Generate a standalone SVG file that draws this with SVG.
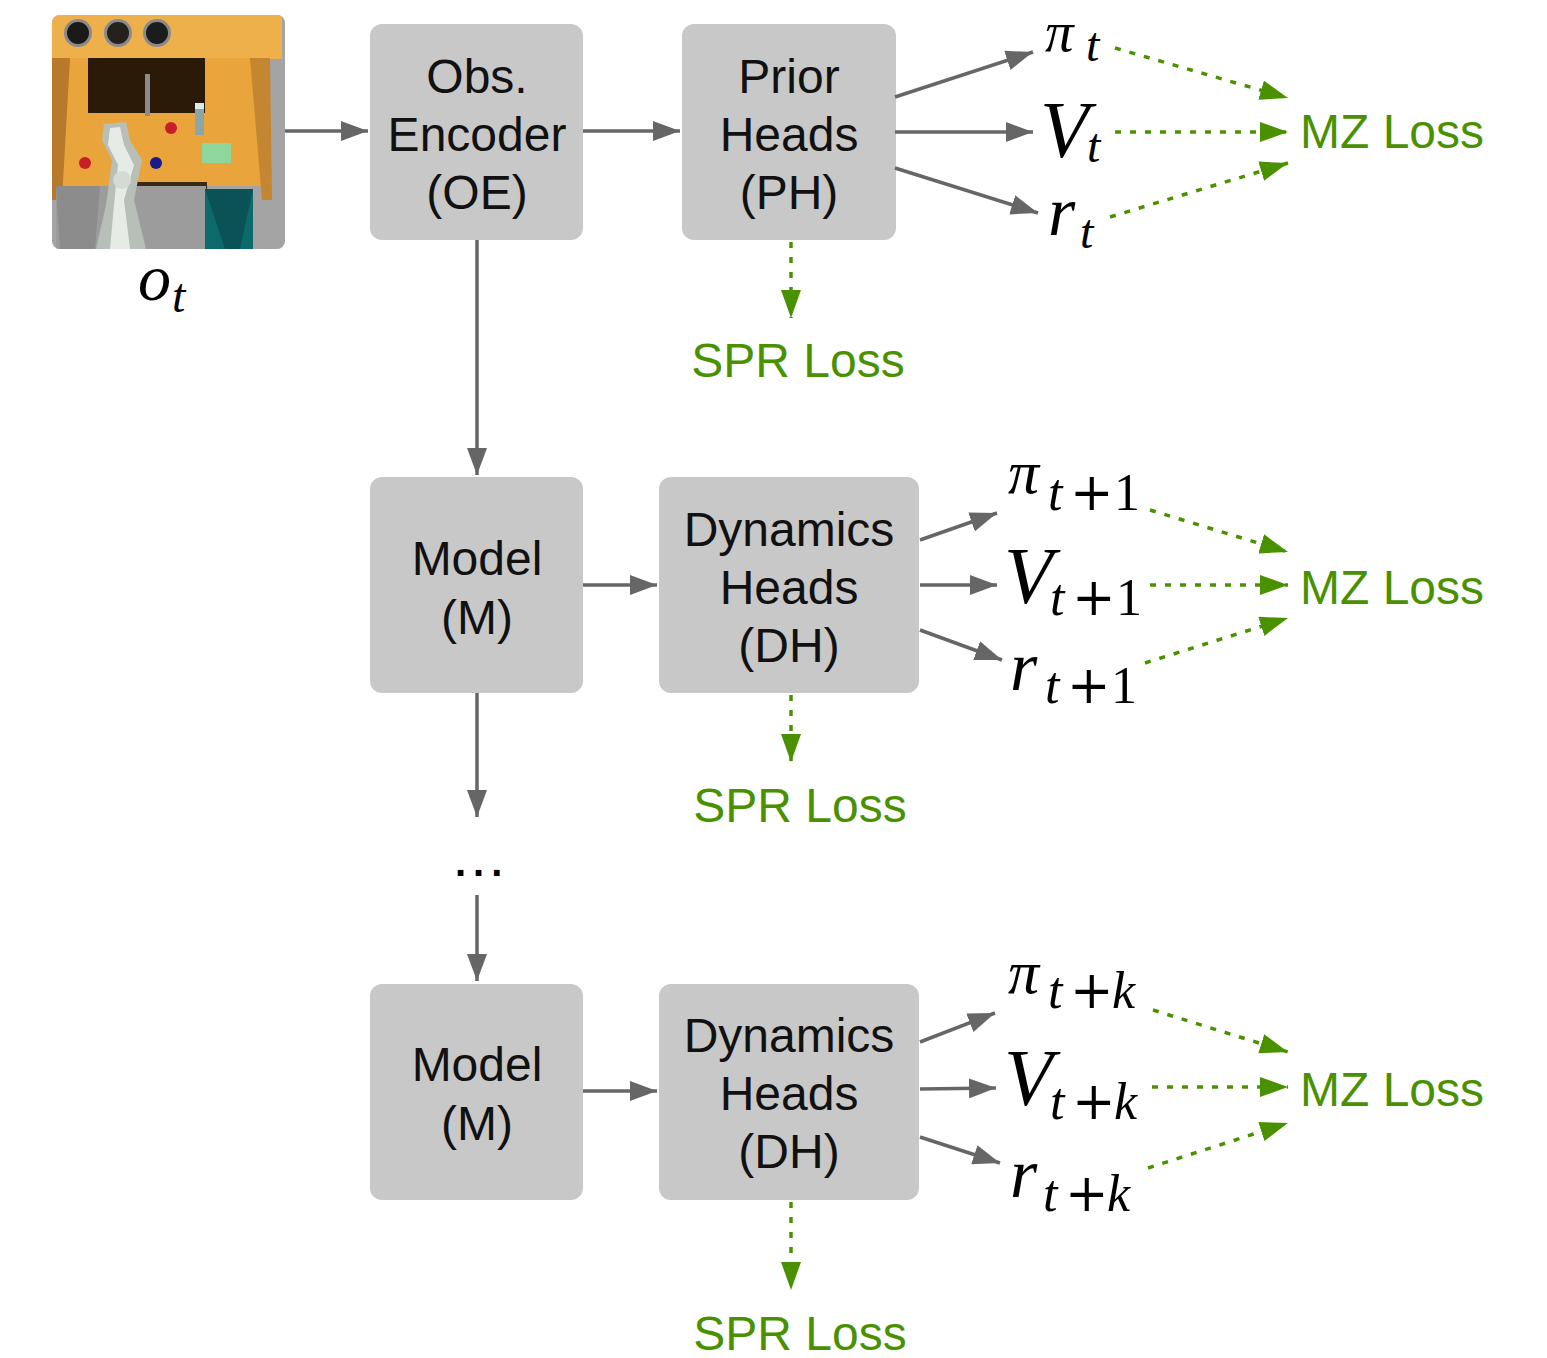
<svg xmlns="http://www.w3.org/2000/svg" width="1547" height="1358" viewBox="0 0 1547 1358">
  <defs>
    <style>
      .box { fill: #c8c8c8; }
      .lbl { font-family: "Liberation Sans", Arial, sans-serif; font-size: 48px; fill: #111; text-anchor: middle; }
      .loss { font-family: "Liberation Sans", Arial, sans-serif; font-size: 48px; fill: #4a9102; }
      .math { font-family: "Liberation Serif", "Times New Roman", serif; font-style: italic; fill: #000; }
      .up { font-style: normal; }
      .plus { font-family: "DejaVu Serif", serif; font-style: normal; }
      .flow { stroke: #666; stroke-width: 3.5; fill: none; marker-end: url(#headGray); }
      .loss-link { stroke: #4a9102; stroke-width: 3.5; fill: none; stroke-dasharray: 6 9; marker-end: url(#headGreen); }
    </style>
    <marker id="headGray" markerUnits="userSpaceOnUse" markerWidth="27" markerHeight="20" refX="27" refY="10" orient="auto">
      <path d="M0,0 L27,10 L0,20 z" fill="#666"/>
    </marker>
    <marker id="headGreen" markerUnits="userSpaceOnUse" markerWidth="28" markerHeight="20" refX="28" refY="10" orient="auto">
      <path d="M0,0 L28,10 L0,20 z" fill="#4a9102"/>
    </marker>
    <clipPath id="obsClip">
      <rect x="52" y="15" width="233" height="234" rx="8"/>
    </clipPath>
  </defs>

  <!-- observation o_t: top-down kitchen scene -->
  <g id="observation">
    <g clip-path="url(#obsClip)">
      <rect x="52" y="15" width="233" height="234" fill="#a4a4a4"/>
      <!-- counter top -->
      <rect x="52" y="15" width="230" height="44" fill="#eeb04a"/>
      <rect x="56" y="58" width="212" height="128" fill="#e9a53c"/>
      <polygon points="52,58 70,58 62,200 52,200" fill="#b87a2a"/>
      <polygon points="250,58 270,58 272,200 262,200" fill="#c48630"/>
      <!-- burners -->
      <circle cx="78" cy="33" r="14" fill="#8a8a8a"/>
      <circle cx="78" cy="33" r="11" fill="#1c1a18"/>
      <circle cx="118" cy="33" r="14" fill="#8a8a8a"/>
      <circle cx="118" cy="33" r="11" fill="#24201c"/>
      <circle cx="157" cy="33" r="14" fill="#8a8a8a"/>
      <circle cx="157" cy="33" r="11" fill="#1c1c1c"/>
      <!-- sink and faucet -->
      <rect x="88" y="58" width="117" height="55" fill="#2c1a08"/>
      <rect x="145" y="74" width="5" height="42" fill="#8c8c8c"/>
      <!-- bottle -->
      <rect x="195" y="103" width="9" height="32" fill="#8aa6a6"/>
      <rect x="195" y="103" width="9" height="6" fill="#d8eeee"/>
      <!-- knobs -->
      <circle cx="171" cy="128" r="6" fill="#c81e28"/>
      <circle cx="85" cy="163" r="6" fill="#c81e28"/>
      <circle cx="156" cy="163" r="6" fill="#1a1a8c"/>
      <!-- green tray -->
      <rect x="202" y="143" width="29" height="20" fill="#8fd69c"/>
      <!-- lower cabinet -->
      <rect x="135" y="182" width="72" height="10" fill="#3a2a12"/>
      <rect x="56" y="186" width="150" height="63" fill="#9c9c9c"/>
      <polygon points="56,186 100,186 95,249 60,249" fill="#8c8c8c"/>
      <rect x="205" y="189" width="48" height="60" fill="#0d6a6c"/>
      <polygon points="205,189 253,189 240,249 225,249" fill="#0a5256"/>
      <!-- robot arm -->
      <polygon points="104,124 126,122 130,140 142,160 134,200 146,249 96,249 106,205 112,160 102,140" fill="#b8beb8"/>
      <polygon points="110,128 120,127 124,145 134,165 124,200 130,249 110,249 114,205 118,165 108,145" fill="#e6ebe6"/>
      <circle cx="122" cy="180" r="9" fill="#d4dad4"/>
    </g>
    <text class="math" x="138" y="300" font-size="66">o</text>
    <text class="math" x="172" y="312" font-size="48">t</text>
  </g>

  <!-- processing blocks -->
  <g id="obs-encoder">
    <rect class="box" x="370" y="24" width="213" height="216" rx="12"/>
    <text class="lbl" x="477" y="93">Obs.</text>
    <text class="lbl" x="477" y="151">Encoder</text>
    <text class="lbl" x="477" y="209">(OE)</text>
  </g>
  <g id="prior-heads">
    <rect class="box" x="682" y="24" width="214" height="216" rx="12"/>
    <text class="lbl" x="789" y="93">Prior</text>
    <text class="lbl" x="789" y="151">Heads</text>
    <text class="lbl" x="789" y="209">(PH)</text>
  </g>
  <g id="model-1">
    <rect class="box" x="370" y="477" width="213" height="216" rx="12"/>
    <text class="lbl" x="477" y="575">Model</text>
    <text class="lbl" x="477" y="634">(M)</text>
  </g>
  <g id="dynamics-heads-1">
    <rect class="box" x="659" y="477" width="260" height="216" rx="12"/>
    <text class="lbl" x="789" y="546">Dynamics</text>
    <text class="lbl" x="789" y="604">Heads</text>
    <text class="lbl" x="789" y="662">(DH)</text>
  </g>
  <g id="ellipsis">
    <text x="455" y="876" font-family="'Liberation Sans', Arial, sans-serif" font-size="40" font-weight="bold" letter-spacing="7" fill="#000">...</text>
  </g>
  <g id="model-k">
    <rect class="box" x="370" y="984" width="213" height="216" rx="12"/>
    <text class="lbl" x="477" y="1081">Model</text>
    <text class="lbl" x="477" y="1140">(M)</text>
  </g>
  <g id="dynamics-heads-k">
    <rect class="box" x="659" y="984" width="260" height="216" rx="12"/>
    <text class="lbl" x="789" y="1052">Dynamics</text>
    <text class="lbl" x="789" y="1110">Heads</text>
    <text class="lbl" x="789" y="1168">(DH)</text>
  </g>

  <!-- predicted quantities -->
  <g id="outputs-t">
    <text class="math" font-size="57"><tspan x="1045" y="51">π</tspan><tspan x="1086" y="61" font-size="48">t</tspan></text>
    <text class="math" font-size="80"><tspan x="1040" y="157">V</tspan><tspan x="1087" y="162" font-size="48">t</tspan></text>
    <text class="math" font-size="70"><tspan x="1048" y="235">r</tspan><tspan x="1080" y="248" font-size="48">t</tspan></text>
  </g>
  <g id="outputs-t1">
    <text class="math" font-size="62"><tspan x="1008" y="493">π</tspan><tspan x="1048" y="510" font-size="52">t</tspan><tspan class="plus" x="1070" y="510" font-size="52">+</tspan><tspan class="up" x="1114" y="510" font-size="52">1</tspan></text>
    <text class="math" font-size="80"><tspan x="1004" y="603">V</tspan><tspan x="1050" y="615" font-size="52">t</tspan><tspan class="plus" x="1072" y="615" font-size="52">+</tspan><tspan class="up" x="1116" y="615" font-size="52">1</tspan></text>
    <text class="math" font-size="70"><tspan x="1010" y="690">r</tspan><tspan x="1045" y="703" font-size="52">t</tspan><tspan class="plus" x="1067" y="703" font-size="52">+</tspan><tspan class="up" x="1111" y="703" font-size="52">1</tspan></text>
  </g>
  <g id="outputs-tk">
    <text class="math" font-size="62"><tspan x="1008" y="993">π</tspan><tspan x="1048" y="1008" font-size="52">t</tspan><tspan class="plus" x="1070" y="1008" font-size="52">+</tspan><tspan x="1112" y="1008" font-size="52">k</tspan></text>
    <text class="math" font-size="80"><tspan x="1004" y="1105">V</tspan><tspan x="1050" y="1119" font-size="52">t</tspan><tspan class="plus" x="1072" y="1119" font-size="52">+</tspan><tspan x="1114" y="1119" font-size="52">k</tspan></text>
    <text class="math" font-size="70"><tspan x="1010" y="1197">r</tspan><tspan x="1043" y="1211" font-size="52">t</tspan><tspan class="plus" x="1065" y="1211" font-size="52">+</tspan><tspan x="1107" y="1211" font-size="52">k</tspan></text>
  </g>

  <!-- loss labels -->
  <g id="losses">
    <text class="loss" x="1300" y="148" font-size="49">MZ Loss</text>
    <text class="loss" x="1300" y="604" font-size="49">MZ Loss</text>
    <text class="loss" x="1300" y="1106" font-size="49">MZ Loss</text>
    <text class="loss" x="798" y="377" text-anchor="middle">SPR Loss</text>
    <text class="loss" x="800" y="822" text-anchor="middle">SPR Loss</text>
    <text class="loss" x="800" y="1350" text-anchor="middle">SPR Loss</text>
  </g>

  <!-- connectors -->
  <g id="connectors">
    <line class="flow" x1="285" y1="131" x2="368" y2="131"/>
    <line class="flow" x1="583" y1="131" x2="680" y2="131"/>
    <line class="flow" x1="477" y1="240" x2="477" y2="475"/>
    <line class="flow" x1="477" y1="693" x2="477" y2="817"/>
    <line class="flow" x1="477" y1="895" x2="477" y2="981"/>
    <line class="flow" x1="583" y1="585" x2="657" y2="585"/>
    <line class="flow" x1="583" y1="1091" x2="657" y2="1091"/>

    <line class="flow" x1="895" y1="97" x2="1033" y2="52"/>
    <line class="flow" x1="895" y1="132" x2="1033" y2="132"/>
    <line class="flow" x1="895" y1="168" x2="1038" y2="213"/>

    <line class="flow" x1="920" y1="540" x2="997" y2="513"/>
    <line class="flow" x1="920" y1="585" x2="997" y2="585"/>
    <line class="flow" x1="920" y1="630" x2="1002" y2="660"/>

    <line class="flow" x1="920" y1="1042" x2="995" y2="1013"/>
    <line class="flow" x1="920" y1="1089" x2="996" y2="1088"/>
    <line class="flow" x1="920" y1="1137" x2="1000" y2="1163"/>

    <line class="loss-link" x1="1115" y1="48" x2="1288" y2="98"/>
    <line class="loss-link" x1="1115" y1="132" x2="1288" y2="132"/>
    <line class="loss-link" x1="1110" y1="217" x2="1288" y2="163"/>

    <line class="loss-link" x1="1150" y1="510" x2="1288" y2="552"/>
    <line class="loss-link" x1="1150" y1="585" x2="1288" y2="585"/>
    <line class="loss-link" x1="1145" y1="663" x2="1288" y2="618"/>

    <line class="loss-link" x1="1153" y1="1010" x2="1288" y2="1052"/>
    <line class="loss-link" x1="1152" y1="1087" x2="1288" y2="1087"/>
    <line class="loss-link" x1="1148" y1="1168" x2="1288" y2="1123"/>

    <line class="loss-link" x1="791" y1="242" x2="791" y2="318"/>
    <line class="loss-link" x1="791" y1="695" x2="791" y2="762"/>
    <line class="loss-link" x1="791" y1="1202" x2="791" y2="1290"/>
  </g>
</svg>
